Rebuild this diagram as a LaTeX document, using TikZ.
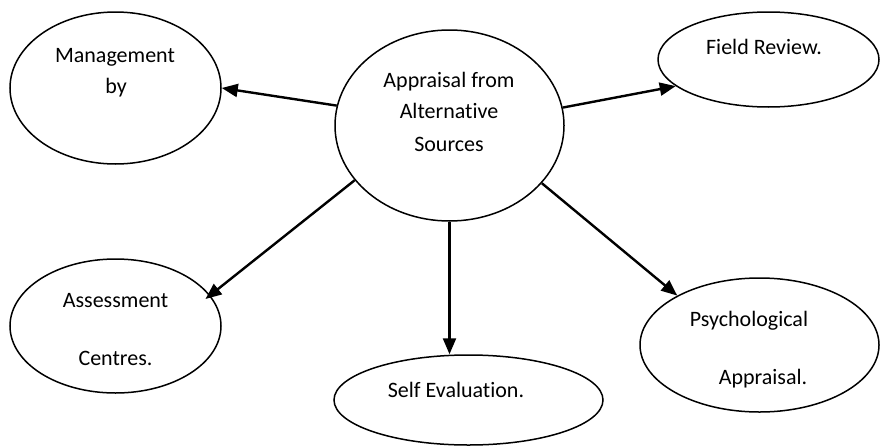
\documentclass[tikz,border=0pt]{standalone}
\usepackage{fontspec}
\setmainfont{Carlito}[Ligatures=NoCommon]
\usetikzlibrary{arrows.meta,shapes.geometric}
\begin{document}
\begin{tikzpicture}[x=1pt,y=-1pt,
  bubble/.style={draw, line width=1.5pt, ellipse, inner sep=0pt},
  lbl/.style={anchor=base, inner sep=0pt, font=\fontsize{22}{26}\selectfont},
  link/.style={line width=2.4pt, -{Triangle[length=16pt,width=13pt]}}]
\useasboundingbox (0,0) rectangle (880,447);

% ellipses
\node[bubble, minimum width=229pt, minimum height=191pt] (src)  at (449.5,125.5) {};
\node[bubble, minimum width=211pt, minimum height=152pt] (mbo)  at (115.5,88) {};
\node[bubble, minimum width=221pt, minimum height=95pt]  (fld)  at (768.5,59.5) {};
\node[bubble, minimum width=211pt, minimum height=134pt] (asc)  at (115.5,326) {};
\node[bubble, minimum width=269pt, minimum height=90pt]  (slf)  at (468.5,400) {};
\node[bubble, minimum width=239pt, minimum height=134pt] (psy)  at (759.5,345) {};

% texts
\node[lbl] (t1) at (449,87.3)  {Appraisal from};
\node[lbl] (t2) at (449,118.8) {Alternative};
\node[lbl] (t3) at (449,151)   {Sources};
\node[lbl] (t4) at (115,62.7)  {Management};
\node[lbl] (t5) at (116,93.5)  {by};
\node[lbl] (t6) at (764,54)    {Field Review.};
\node[lbl] (t7) at (115.5,307.3) {Assessment};
\node[lbl] (t8) at (115.5,365.7) {Centres.};
\node[lbl] (t9) at (456,397.3) {Self Evaluation.};
\node[lbl] (t10) at (749,326)  {Psychological};
\node[lbl] (t11) at (763,384.3) {Appraisal.};

% connectors
\draw[link] (src.170.8) -- (mbo.east);
\draw[link] (src.9.7) -- (fld.196.7);
\draw[link, shorten >=-6pt] (src.210.9) -- (asc.18.5);
\draw[link] (src.south) -- (src.south |- slf.north);
\draw[link] (src.328.9) -- (psy.149.8);
\end{tikzpicture}
\end{document}
